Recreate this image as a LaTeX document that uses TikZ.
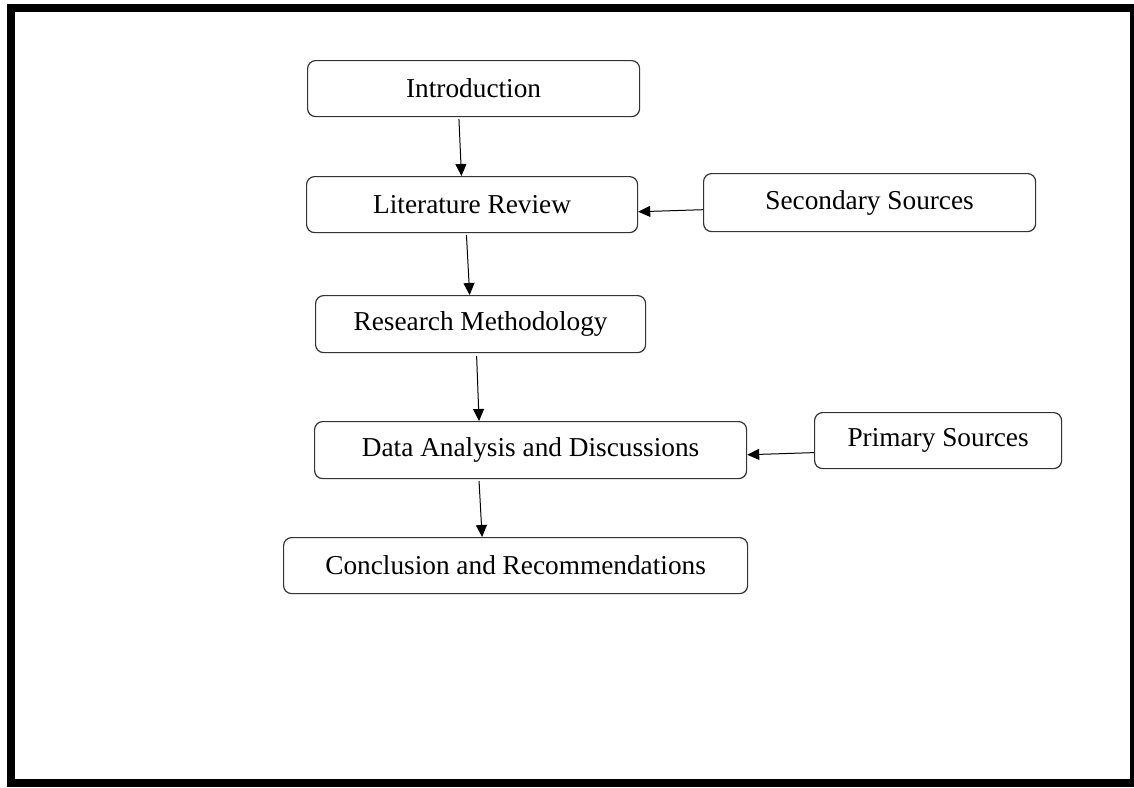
\documentclass[tikz,border=0pt]{standalone}
\usepackage{fontspec}
\setmainfont{Liberation Serif}
\usetikzlibrary{arrows.meta,calc}
\begin{document}
\begin{tikzpicture}[x=1pt,y=-1pt,
  box/.style={draw=black!80, line width=1.2pt, rounded corners=8pt, inner sep=0pt,
    font=\fontsize{27.3}{32}\selectfont, anchor=north west},
  conn/.style={line width=1pt, -{Triangle[length=12pt,width=11pt]}}]
\useasboundingbox (0,0) rectangle (1134,787);
\draw[line width=8pt] (11,8) rectangle (1134,783);
\node[box, minimum width=332pt, minimum height=56pt] (intro) at (307,60) {Introduction};
\node[box, minimum width=331pt, minimum height=56pt] (lit) at (306,176) {Literature Review};
\node[box, minimum width=332pt, minimum height=58pt] (sec) at (703,173) {Secondary Sources};
\node[box, minimum width=330pt, minimum height=57pt] (meth) at (315,295) {Research Methodology};
\node[box, minimum width=432pt, minimum height=57pt] (data) at (314,421) {Data Analysis and Discussions};
\node[box, minimum width=247pt, minimum height=56pt] (prim) at (814,412) {Primary Sources};
\node[box, minimum width=464pt, minimum height=56pt] (conc) at (283,537) {Conclusion and Recommendations};
\draw[conn] ($(intro.south west)!0.456!(intro.south east)+(0,2)$) -- ($(lit.north west)!0.468!(lit.north east)$);
\draw[conn] ($(lit.south west)!0.483!(lit.south east)+(0,2)$) -- ($(meth.north west)!0.467!(meth.north east)$);
\draw[conn] ($(meth.south west)!0.488!(meth.south east)+(0,3)$) -- ($(data.north west)!0.381!(data.north east)$);
\draw[conn] ($(data.south west)!0.381!(data.south east)+(0,2)$) -- ($(conc.north west)!0.428!(conc.north east)$);
\draw[conn] ($(sec.north west)!0.62!(sec.south west)$) -- ($(lit.north east)!0.625!(lit.south east)$);
\draw[conn] ($(prim.north west)!0.71!(prim.south west)$) -- ($(data.north east)!0.58!(data.south east)$);
\end{tikzpicture}
\end{document}
